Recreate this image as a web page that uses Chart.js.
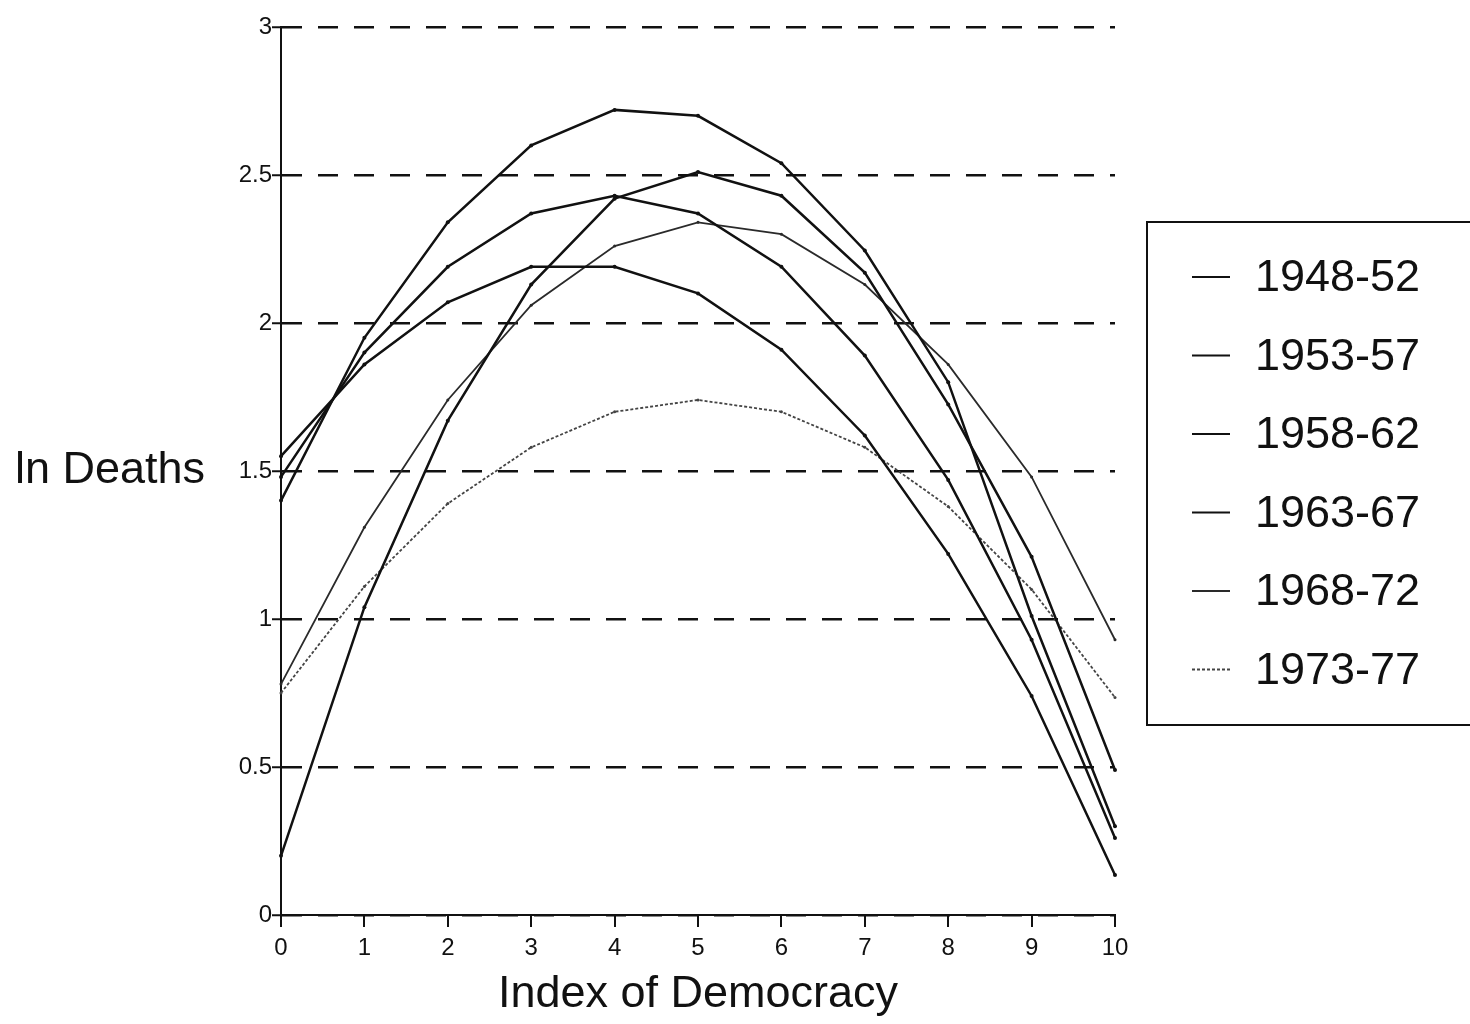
<!DOCTYPE html>
<html lang="en">
<head>
  <meta charset="UTF-8">
  <title>ln Deaths by Index of Democracy</title>
  <script src="https://cdn.jsdelivr.net/npm/chart.js"></script>
  <style>
    body { margin: 0; background: #fff; }
    canvas { display: block; }
  </style>
</head>
<body>
  <canvas id="chart" width="1470" height="1024"></canvas>

  <script>
    // Data
    const democracyIndex = ['0', '1', '2', '3', '4', '5', '6', '7', '8', '9', '10'];
    const yTickLabels = ['0', '0.5', '1', '1.5', '2', '2.5', '3'];
    const periods = ['1948-52', '1953-57', '1958-62', '1963-67', '1968-72', '1973-77'];

    const deaths1948 = [1.40, 1.95, 2.34, 2.60, 2.72, 2.70, 2.54, 2.245, 1.80, 1.01, 0.30];
    const deaths1953 = [1.48, 1.90, 2.19, 2.37, 2.43, 2.37, 2.19, 1.89, 1.47, 0.93, 0.26];
    const deaths1958 = [1.55, 1.86, 2.07, 2.19, 2.19, 2.10, 1.91, 1.62, 1.22, 0.74, 0.135];
    const deaths1963 = [0.20, 1.04, 1.67, 2.13, 2.42, 2.51, 2.43, 2.17, 1.725, 1.21, 0.49];
    const deaths1968 = [0.78, 1.31, 1.74, 2.06, 2.26, 2.34, 2.30, 2.13, 1.86, 1.48, 0.93];
    const deaths1973 = [0.75, 1.11, 1.39, 1.58, 1.70, 1.74, 1.70, 1.58, 1.38, 1.10, 0.735];

    const FONT = "'Liberation Sans', Arial, sans-serif";

    function solid(label, data) {
      return {
        label: label, data: data,
        borderColor: '#111', backgroundColor: '#111',
        borderWidth: 2.5, pointRadius: 2, pointBorderWidth: 0, tension: 0
      };
    }

    const datasets = [
      solid(periods[0], deaths1948),
      solid(periods[1], deaths1953),
      solid(periods[2], deaths1958),
      solid(periods[3], deaths1963),
      {
        label: periods[4], data: deaths1968,
        borderColor: '#2a2a2a', backgroundColor: '#2a2a2a',
        borderWidth: 1.8, pointRadius: 1.5, pointBorderWidth: 0, tension: 0
      },
      {
        label: periods[5], data: deaths1973,
        borderColor: '#444', backgroundColor: '#444',
        borderWidth: 1.8, borderDash: [3, 2], pointRadius: 1.5, pointBorderWidth: 0, tension: 0
      }
    ];

    // horizontal y title + boxed legend on the right
    const extras = {
      id: 'extras',
      afterDraw(chart) {
        const ctx = chart.ctx;
        const area = chart.chartArea;
        ctx.save();
        ctx.fillStyle = '#111';
        ctx.font = '45px ' + FONT;
        ctx.textAlign = 'left';
        ctx.textBaseline = 'middle';
        ctx.fillText('ln Deaths', 15, (area.top + area.bottom) / 2);

        ctx.strokeStyle = '#111';
        ctx.lineWidth = 2;
        ctx.strokeRect(1147, 222, 340, 503);

        chart.data.datasets.forEach((ds, i) => {
          const y = 277 + i * 78.5;
          ctx.beginPath();
          ctx.strokeStyle = ds.borderColor;
          ctx.lineWidth = Math.min(ds.borderWidth, 2);
          ctx.setLineDash(ds.borderDash || []);
          ctx.moveTo(1192, y);
          ctx.lineTo(1230, y);
          ctx.stroke();
          ctx.setLineDash([]);
          ctx.fillStyle = '#111';
          ctx.fillText(ds.label, 1255, y + 2);
        });
        ctx.restore();
      }
    };

    new Chart(document.getElementById('chart').getContext('2d'), {
      type: 'line',
      data: { labels: democracyIndex, datasets: datasets },
      plugins: [extras],
      options: {
        responsive: false,
        animation: false,
        layout: { padding: { left: 0, right: 355, top: 27, bottom: 0 } },
        plugins: { legend: { display: false }, tooltip: { enabled: false } },
        scales: {
          x: {
            afterFit(scale) { scale.height = 109; },
            grid: { drawOnChartArea: false, drawTicks: true, tickLength: 12, color: '#111', lineWidth: 2 },
            border: { display: true, color: '#111', width: 2 },
            ticks: { color: '#111', font: { family: FONT, size: 24 }, padding: 7, maxRotation: 0 },
            title: { display: true, text: 'Index of Democracy', color: '#111', font: { family: FONT, size: 45 }, padding: { top: 4, bottom: 2 } }
          },
          y: {
            min: 0, max: 3,
            afterFit(scale) { scale.width = 281; },
            grid: {
              color: '#111', lineWidth: 2.5,
              drawTicks: true, tickLength: 9, tickColor: '#111', tickWidth: 2, tickBorderDash: []
            },
            border: { display: true, color: '#111', width: 2, dash: [20, 16] },
            ticks: {
              stepSize: 0.5, color: '#111', padding: 0,
              font: { family: FONT, size: 24 },
              callback: (value) => yTickLabels[Math.round(value / 0.5)]
            }
          }
        }
      }
    });
  </script>
</body>
</html>
